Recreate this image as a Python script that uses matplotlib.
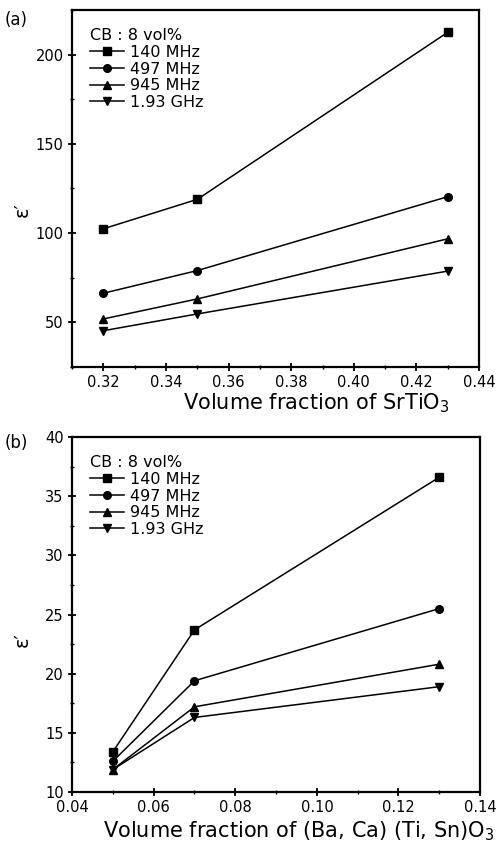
import matplotlib
matplotlib.use("Agg")
import matplotlib.pyplot as plt
from matplotlib.ticker import MultipleLocator, FixedFormatter, FixedLocator

plt.rcParams['font.family'] = ['DejaVu Sans']

freqs = ['140 MHz', '497 MHz', '945 MHz', '1.93 GHz']
markers = ['s', 'o', '^', 'v']

# (a) SrTiO3
x_a = [0.32, 0.35, 0.43]
eps_a = [
    [102.4, 118.9, 212.5],
    [66.3, 79.0, 120.4],
    [51.9, 63.1, 96.8],
    [45.3, 54.7, 78.7],
]

# (b) (Ba, Ca)(Ti, Sn)O3
x_b = [0.05, 0.07, 0.13]
eps_b = [
    [13.4, 23.7, 36.6],
    [12.6, 19.4, 25.5],
    [11.9, 17.2, 20.8],
    [11.9, 16.3, 18.9],
]

xticks_a = [0.32, 0.34, 0.36, 0.38, 0.40, 0.42, 0.44]
xticks_b = [0.04, 0.06, 0.08, 0.10, 0.12, 0.14]

fig = plt.figure(figsize=(4.97, 8.43), dpi=100)
ax1 = fig.add_axes([0.145, 0.5647, 0.819, 0.4235])
ax2 = fig.add_axes([0.145, 0.0605, 0.821, 0.4211])


def style(ax, xticks, xmin, xmax, ymin, ymax, ymaj, ymin_step, xlabel,
          xlab_x, ylab_y, lpad):
    ax.set_xlim(xmin, xmax)
    ax.set_ylim(ymin, ymax)
    ax.xaxis.set_major_locator(FixedLocator(xticks))
    ax.xaxis.set_major_formatter(FixedFormatter([f'{t:.2f}' for t in xticks]))
    ax.xaxis.set_minor_locator(MultipleLocator(0.01))
    ax.yaxis.set_major_locator(MultipleLocator(ymaj))
    ax.yaxis.set_minor_locator(MultipleLocator(ymin_step))
    ax.tick_params(which='major', direction='inout', length=6, width=1.3,
                   labelsize=10.5, top=False, right=False, pad=3)
    ax.tick_params(which='minor', direction='inout', length=3.5, width=1)
    for s in ax.spines.values():
        s.set_linewidth(1.6)
    ax.set_xlabel(xlabel, fontsize=15, labelpad=lpad)
    ax.xaxis.label.set_x(xlab_x)
    ax.set_ylabel("ε′", fontsize=14)
    ax.yaxis.set_label_coords(-0.1, ylab_y)
    ax.legend(loc='upper left', title='CB : 8 vol%', frameon=False,
              fontsize=11.5, title_fontsize=11.5, handlelength=2.1,
              handletextpad=0.35, labelspacing=0.1,
              borderaxespad=0.75, alignment='left')


for vals, lab, m in zip(eps_a, freqs, markers):
    ax1.plot(x_a, vals, color='black', lw=1.1, marker=m, ms=5.5, label=lab)
for vals, lab, m in zip(eps_b, freqs, markers):
    ax2.plot(x_b, vals, color='black', lw=1.1, marker=m, ms=5.5, label=lab)

style(ax1, xticks_a, 0.31, 0.44, 25, 225, 50, 25,
      'Volume fraction of SrTiO$_3$', 0.6, 0.44, 1)
style(ax2, xticks_b, 0.04, 0.14, 10, 40, 5, 2.5,
      'Volume fraction of (Ba, Ca) (Ti, Sn)O$_3$', 0.556, 0.43, 3)

fig.text(0.01, 0.970, '(a)', fontsize=12)
fig.text(0.01, 0.468, '(b)', fontsize=12)

fig.savefig('out.png', dpi=100)
